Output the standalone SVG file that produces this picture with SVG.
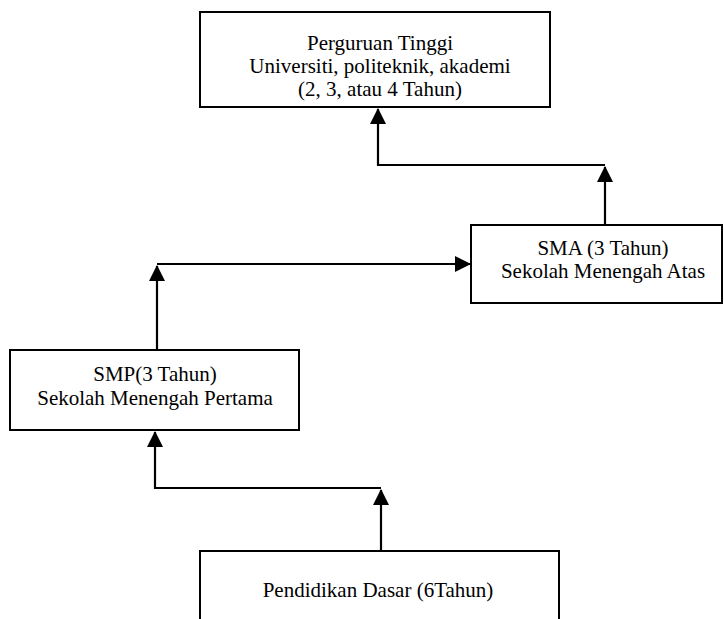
<svg xmlns="http://www.w3.org/2000/svg" width="724" height="619" viewBox="0 0 724 619">
  <style>
    .box { fill: #ffffff; stroke: #000000; stroke-width: 2; }
    .lbl { font-family: 'Liberation Serif', 'DejaVu Serif', serif; font-size: 21px; fill: #000000; text-anchor: middle; }
    .conn { fill: none; stroke: #000000; stroke-width: 2.2; stroke-linejoin: miter; }
  </style>
  <defs>
    <marker id="arrow" viewBox="0 0 16 16" refX="15" refY="8" markerWidth="16" markerHeight="16" markerUnits="userSpaceOnUse" orient="auto">
      <path d="M0,0 L16,8 L0,16 Z" fill="#000000"/>
    </marker>
  </defs>
  <rect width="724" height="619" fill="#ffffff"/>

  <g id="connectors">
    <path class="conn" d="M605,225 L605,167" marker-end="url(#arrow)"/>
    <path class="conn" d="M605,165 L378,165 L378,109" marker-end="url(#arrow)"/>
    <path class="conn" d="M157,350 L157,266" marker-end="url(#arrow)"/>
    <path class="conn" d="M157,264 L470,264" marker-end="url(#arrow)"/>
    <path class="conn" d="M381,550 L381,490" marker-end="url(#arrow)"/>
    <path class="conn" d="M381,488 L155,488 L155,432" marker-end="url(#arrow)"/>
  </g>

  <g id="perguruan-tinggi">
    <rect class="box" x="200" y="12" width="350" height="95"/>
    <text class="lbl" x="380" y="50">Perguruan Tinggi</text>
    <text class="lbl" x="380" y="73">Universiti, politeknik, akademi</text>
    <text class="lbl" x="380" y="96">(2, 3, atau 4 Tahun)</text>
  </g>

  <g id="sma">
    <rect class="box" x="471" y="225" width="251" height="78"/>
    <text class="lbl" x="603" y="255">SMA (3 Tahun)</text>
    <text class="lbl" x="603" y="278">Sekolah Menengah Atas</text>
  </g>

  <g id="smp">
    <rect class="box" x="10" y="350" width="289" height="80"/>
    <text class="lbl" x="155" y="381">SMP(3 Tahun)</text>
    <text class="lbl" x="155" y="405">Sekolah Menengah Pertama</text>
  </g>

  <g id="pendidikan-dasar">
    <rect class="box" x="200" y="551" width="359" height="80"/>
    <text class="lbl" x="378" y="597">Pendidikan Dasar (6Tahun)</text>
  </g>
</svg>
